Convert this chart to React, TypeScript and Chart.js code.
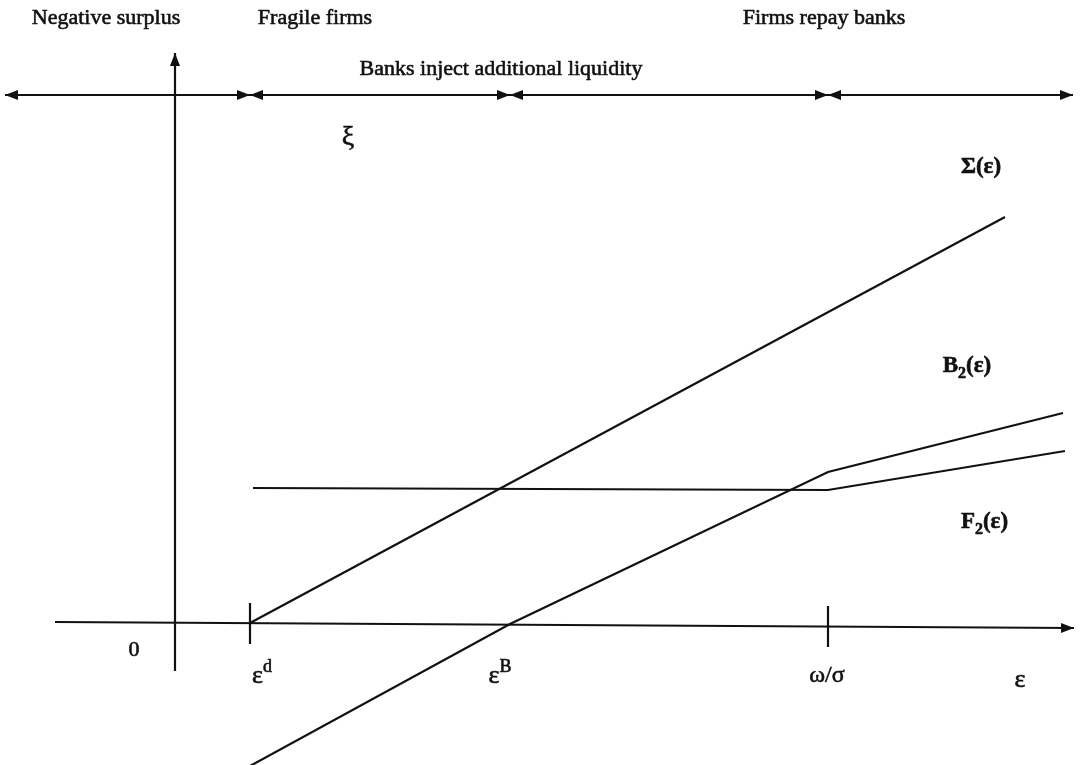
import React, { useEffect, useRef } from "react";
import { Chart, registerables } from "chart.js";

Chart.register(...registerables);

// ---- Key thresholds on the ε axis ----
const EPS_D = 7.5; // ε^d
const EPS_B = 33.5; // ε^B
const OMEGA_SIGMA = 65.3; // ω/σ

// ---- Curves ----
// Σ(ε): total surplus
const sigmaX = [EPS_D, 83.0];
const sigmaY = [0, 40.6];
// B2(ε): banks' payoff
const b2X = [EPS_D, EPS_B, OMEGA_SIGMA, 88.8];
const b2Y = [-14.3, -0.1, 15.1, 21.0];
// F2(ε): firms' payoff
const f2X = [7.8, OMEGA_SIGMA, 89.0];
const f2Y = [13.5, 13.3, 17.2];

// ---- Axes ----
const epsAxisX = [-12.0, 89.9];
const epsAxisY = [0.1, -0.5];
const valueAxisX = [0, 0];
const valueAxisY = [-4.8, 57.0];

// ---- Tick marks on the ε axis ----
const tickX = [EPS_D, OMEGA_SIGMA];
const tickTop = [2.0, 1.7];
const tickBottom = [-2.1, -2.4];

// ---- Regimes along the top ----
const regimeEdges = [-17.0, EPS_D, EPS_B, OMEGA_SIGMA, 89.8];
const regimeLevel = 52.8;

// ---- Text annotations (data-space anchors: centre x, baseline y) ----
const labelTexts = [
  "Negative surplus",
  "Fragile firms",
  "Banks inject additional liquidity",
  "Firms repay banks",
  "ξ",
  "Σ(ε)",
  "B_2(ε)",
  "F_2(ε)",
  "0",
  "ε^d",
  "ε^B",
  "ω/σ",
  "ε",
];
const labelX = [-6.9, 14.0, 32.6, 64.9, 17.3, 80.6, 79.2, 80.95, -4.1, 8.7, 32.5, 65.2, 84.5];
const labelY = [59.9, 59.9, 54.8, 59.9, 47.8, 45.0, 25.1, 9.5, -3.3, -6.0, -6.0, -5.9, -6.4];

// ---- Text styles (kept apart from the data) ----
const labelBold = [false, false, false, false, false, true, true, true, false, false, false, false, false];
const labelSize = [22, 22, 22, 22, 28, 23, 23, 23, 22, 26, 26, 24, 26];

const INK = "#111111";
const FONT = "'Liberation Serif', 'Times New Roman', serif";

type Part = { t: string; k: string };

function parseRich(text: string): Part[] {
  const parts: Part[] = [];
  for (let i = 0; i < text.length; i++) {
    const c = text[i];
    if ((c === "_" || c === "^") && i + 1 < text.length) {
      parts.push({ t: text[i + 1], k: c });
      i++;
    } else {
      const last = parts[parts.length - 1];
      if (last && last.k === "") last.t += c;
      else parts.push({ t: c, k: "" });
    }
  }
  return parts;
}

function drawRich(
  ctx: CanvasRenderingContext2D,
  text: string,
  cx: number,
  baseY: number,
  bold: boolean,
  size: number
) {
  const parts = parseRich(text);
  const w = bold ? "bold " : "";
  const mainFont = `${w}${size}px ${FONT}`;
  const smallFont = `${w}${Math.round(size * 0.68)}px ${FONT}`;
  let total = 0;
  const widths = parts.map((p) => {
    ctx.font = p.k === "" ? mainFont : smallFont;
    const m = ctx.measureText(p.t).width;
    total += m;
    return m;
  });
  let x = cx - total / 2;
  ctx.textAlign = "left";
  ctx.textBaseline = "alphabetic";
  ctx.fillStyle = INK;
  ctx.strokeStyle = INK;
  ctx.lineWidth = 0.6;
  ctx.lineJoin = "round";
  parts.forEach((p, i) => {
    ctx.font = p.k === "" ? mainFont : smallFont;
    let y = baseY;
    if (p.k === "^") y = baseY - size * 0.42;
    if (p.k === "_") y = baseY + size * 0.25;
    ctx.fillText(p.t, x, y);
    ctx.strokeText(p.t, x, y);
    x += widths[i];
  });
}

const arrowPlugin = {
  id: "arrowHeads",
  afterDatasetsDraw(chart: any) {
    const ctx: CanvasRenderingContext2D = chart.ctx;
    chart.data.datasets.forEach((ds: any, i: number) => {
      const mode = ds.arrows;
      if (!mode || mode === "none") return;
      const pts = chart.getDatasetMeta(i).data;
      if (pts.length < 2) return;
      const head = (tip: any, from: any) => {
        const ang = Math.atan2(tip.y - from.y, tip.x - from.x);
        const L = 13;
        const W = 5;
        const bx = tip.x - L * Math.cos(ang);
        const by = tip.y - L * Math.sin(ang);
        ctx.save();
        ctx.fillStyle = INK;
        ctx.beginPath();
        ctx.moveTo(tip.x, tip.y);
        ctx.lineTo(bx - W * Math.sin(ang), by + W * Math.cos(ang));
        ctx.lineTo(bx + W * Math.sin(ang), by - W * Math.cos(ang));
        ctx.closePath();
        ctx.fill();
        ctx.restore();
      };
      if (mode === "end" || mode === "both") head(pts[pts.length - 1], pts[pts.length - 2]);
      if (mode === "both") head(pts[0], pts[1]);
    });
  },
};

const textPlugin = {
  id: "diagramText",
  afterDraw(chart: any) {
    const ctx: CanvasRenderingContext2D = chart.ctx;
    const xs = chart.scales.x;
    const ys = chart.scales.y;
    ctx.save();
    labelTexts.forEach((t, i) => {
      drawRich(
        ctx,
        t,
        xs.getPixelForValue(labelX[i]),
        ys.getPixelForValue(labelY[i]),
        labelBold[i],
        labelSize[i]
      );
    });
    ctx.restore();
  },
};

export default function App() {
  const ref = useRef<HTMLCanvasElement>(null);

  useEffect(() => {
    const canvas = ref.current;
    if (!canvas) return;
    const zip = (xs: number[], ys: number[]) => xs.map((x, i) => ({ x, y: ys[i] }));
    const line = (label: string, xs: number[], ys: number[], width: number, arrows: string) => ({
      label,
      data: zip(xs, ys),
      showLine: true,
      borderColor: INK,
      backgroundColor: INK,
      borderWidth: width,
      pointRadius: 0,
      pointHoverRadius: 0,
      tension: 0,
      clip: false,
      fill: false,
      arrows,
    });

    const datasets: any[] = [
      line("ε axis", epsAxisX, epsAxisY, 2.2, "end"),
      line("value axis", valueAxisX, valueAxisY, 2.2, "end"),
      ...tickX.map((x, i) => line("tick", [x, x], [tickTop[i], tickBottom[i]], 2.2, "none")),
      ...regimeEdges.slice(0, -1).map((x, i) =>
        line("regime", [x, regimeEdges[i + 1]], [regimeLevel, regimeLevel], 2.2, "both")
      ),
      line("Σ(ε)", sigmaX, sigmaY, 2.2, "none"),
      line("B2(ε)", b2X, b2Y, 2.2, "none"),
      line("F2(ε)", f2X, f2Y, 2.2, "none"),
    ];

    const chart = new Chart(canvas, {
      type: "scatter",
      data: { datasets },
      options: {
        animation: false,
        responsive: false,
        maintainAspectRatio: false,
        devicePixelRatio: 1,
        layout: { padding: 0 },
        events: [],
        plugins: {
          legend: { display: false },
          tooltip: { enabled: false },
        },
        scales: {
          x: { type: "linear", min: -17.5, max: 90.6, display: false },
          y: { type: "linear", min: -14.2, max: 62.3, display: false },
        },
      } as any,
      plugins: [arrowPlugin, textPlugin],
    });
    return () => chart.destroy();
  }, []);

  return (
    <div style={{ position: "fixed", left: 0, top: 0, width: 1081, height: 765, background: "#fff" }}>
      <canvas ref={ref} width={1081} height={765} style={{ display: "block", width: 1081, height: 765 }} />
    </div>
  );
}
